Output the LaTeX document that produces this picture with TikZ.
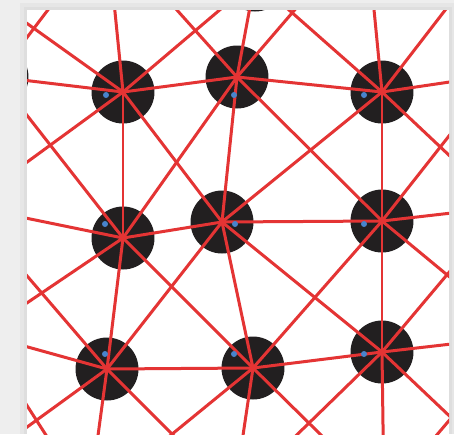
\documentclass[tikz,border=0pt]{standalone}
\usepackage{xcolor}
\usepackage{tikz}
\definecolor{BondRed}{RGB}{228,52,52}
\definecolor{AtomBlack}{RGB}{34,31,32}
\definecolor{SiteBlue}{RGB}{72,132,204}
\definecolor{PageGray}{RGB}{238,238,238}
\definecolor{ShadeGray}{RGB}{222,222,222}
\tikzset{
    atom/.style={circle, fill=AtomBlack, minimum size=1.26cm, inner sep=0pt},
    site/.style={circle, fill=SiteBlue, minimum size=0.12cm, inner sep=0pt},
    bond/.style={draw=BondRed, line width=0.06cm, line cap=round},
}

\begin{document}
\begin{tikzpicture}[x=0.02cm, y=-0.02cm]
\useasboundingbox (0,0) rectangle (454,434);
% paper and its shadow
\fill[PageGray] (0,0) rectangle (454,434);
\fill[ShadeGray!50!PageGray] (20,3) rectangle (454,434);
\fill[ShadeGray] (24,7) rectangle (452,434);
\fill[white] (27,10) rectangle (449,434);

\begin{scope}
\clip (27,10) rectangle (449,434);
% displaced atoms
\node[atom] (a1) at (123,92) {};
\node[atom] (a2) at (237,77) {};
\node[atom] (a3) at (382,92) {};
\node[atom] (b1) at (123,238) {};
\node[atom] (b2) at (222,222) {};
\node[atom] (b3) at (382,221) {};
\node[atom] (c1) at (107,369) {};
\node[atom] (c2) at (253,368) {};
\node[atom] (c3) at (382,352) {};
\node[atom] (n2) at (255,-20) {};
\node[atom] (w1) at (-3,77) {};
% neighbours outside the frame
\coordinate (nw) at (-31,-18);
\coordinate (n1) at (107,-68);
\coordinate (n3) at (366,-73);
\coordinate (ne) at (483,-39);
\coordinate (w2) at (-33,206);
\coordinate (w3) at (-19,334);
\coordinate (sw) at (-21,462);
\coordinate (e1) at (497,75);
\coordinate (e2) at (504,207);
\coordinate (e3) at (521,336);
\coordinate (se) at (498,462);
\coordinate (s1) at (89,502);
\coordinate (s2) at (234,496);
\coordinate (s3) at (384,497);

% bonds
\foreach \p/\q in {a1/a2, a2/a3, b1/b2, b2/b3, c1/c2, c2/c3,
                   a1/b1, b1/c1, a2/b2, b2/c2, a3/b3, b3/c3,
                   a1/b2, a2/b1, a2/b3, a3/b2, b1/c2, b2/c1, b2/c3, b3/c2}
    \draw[bond] (\p.center) -- (\q.center);
\foreach \p/\q in {a1/nw, a1/n1, a1/n2, a1/w1, a1/w2,
                   a2/n1, a2/n2, a2/n3,
                   a3/n2, a3/n3, a3/ne, a3/e1, a3/e2,
                   b1/w1, b1/w2, b1/w3,
                   b3/e1, b3/e2, b3/e3,
                   c1/w2, c1/w3, c1/sw, c1/s1, c1/s2,
                   c2/s1, c2/s2, c2/s3,
                   c3/s2, c3/s3, c3/se, c3/e3, c3/e2,
                   w1/n1, w3/s1, s3/e3}
    \draw[bond] (\p.center) -- (\q.center);

% ideal lattice sites
\node[site] (pa1) at (106,95) {};
\node[site] (pa2) at (234,95) {};
\node[site] (pa3) at (364,95) {};
\node[site] (pb1) at (105,224) {};
\node[site] (pb2) at (235,224) {};
\node[site] (pb3) at (364,224) {};
\node[site] (pc1) at (105,354) {};
\node[site] (pc2) at (234,354) {};
\node[site] (pc3) at (364,354) {};
\end{scope}
\end{tikzpicture}
\end{document}
